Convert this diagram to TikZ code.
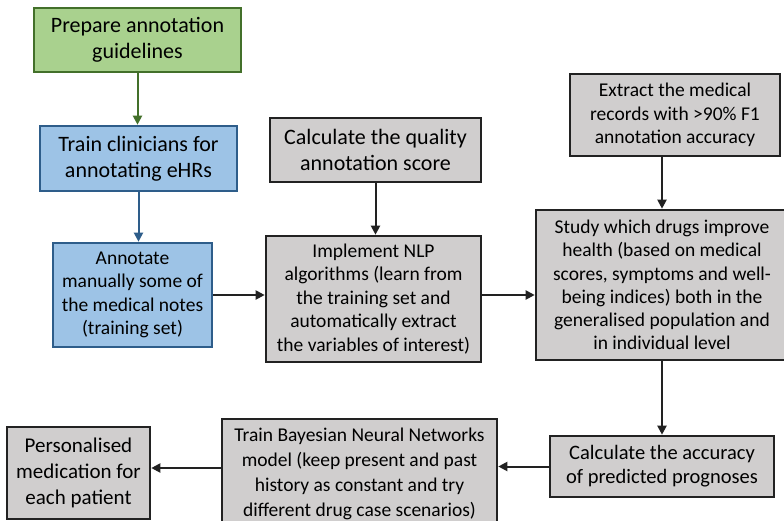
\documentclass[tikz,border=0pt]{standalone}
\usepackage{fontspec}
\setmainfont{Carlito}
\usetikzlibrary{arrows.meta}
\definecolor{gfill}{HTML}{A9D18E}
\definecolor{gline}{HTML}{43702A}
\definecolor{bfill}{HTML}{9DC3E6}
\definecolor{bline}{HTML}{2E5D8A}
\definecolor{kfill}{HTML}{D0CECE}
\definecolor{kline}{HTML}{222222}
\begin{document}
\begin{tikzpicture}[x=1pt,y=-1pt,
  box/.style={draw=kline,fill=kfill,line width=2.6pt,align=center,inner sep=0pt,
    minimum width=#1,text=black},
  gbox/.style={box=#1,draw=gline,fill=gfill},
  bbox/.style={box=#1,draw=bline,fill=bfill},
  arr/.style={line width=2pt,draw=kline,-{Triangle[length=9pt,width=9pt]}},
  big/.style={font=\fontsize{22}{26}\selectfont},
  small/.style={font=\fontsize{19.5}{23.5}\selectfont},
]
\useasboundingbox (0,0) rectangle (784,520);
\fill[white] (0,0) rectangle (784,520);
\node[gbox=207pt,minimum height=64pt,big] (prep) at (137.5,40) {Prepare annotation\\guidelines};
\node[bbox=197pt,minimum height=65pt,big] (train) at (138.5,158.5) {Train clinicians for\\annotating eHRs};
\node[bbox=159pt,minimum height=104pt,small] (annot) at (132.5,295) {Annotate\\manually some of\\the medical notes\\(training set)};
\node[box=211pt,minimum height=64pt,big] (calcq) at (375.5,150) {Calculate the quality\\annotation score};
\node[box=215pt,minimum height=126pt,small] (nlp) at (373.5,299) {Implement NLP\\algorithms (learn from\\the training set and\\automatically extract\\the variables of interest)};
\node[box=210pt,minimum height=82pt,small] (extr) at (675,115) {Extract the medical\\records with {>}90\% F1\\annotation accuracy};
\node[box=252pt,minimum height=150pt,font=\fontsize{19.5}{23.3}\selectfont] (study) at (662,285) {Study which drugs improve\\health (based on medical\\scores, symptoms and well-\\being indices) both in the\\generalised population and\\in individual level};
\node[box=224pt,minimum height=61pt,font=\fontsize{20.5}{24}\selectfont] (acc) at (662,466.5) {Calculate the accuracy\\of predicted prognoses};
\node[box=275pt,minimum height=110pt,font=\fontsize{19.5}{25}\selectfont] (bayes) at (359.5,474) {Train Bayesian Neural Networks\\model (keep present and past\\history as constant and try\\different drug case scenarios)};
\node[box=143pt,minimum height=92pt,font=\fontsize{21}{26}\selectfont] (pers) at (78.5,473) {Personalised\\medication for\\each patient};
\draw[arr,draw=gline] (prep.south) -- (prep.south |- train.north);
\draw[arr,draw=bline] (train.south) -- (train.south |- annot.north);
\draw[arr] (annot.east) -- (annot.east -| nlp.west);
\draw[arr] (calcq.south) -- (calcq.south |- nlp.north);
\draw[arr] (nlp.east |- annot.east) -- (study.west |- annot.east);
\draw[arr] (extr.south -| study.north) -- (study.north);
\draw[arr] (study.south) -- (acc.north);
\draw[arr] (acc.west) -- (acc.west -| bayes.east);
\draw[arr] (bayes.west |- 0,468) -- (pers.east |- 0,468);
\end{tikzpicture}
\end{document}
